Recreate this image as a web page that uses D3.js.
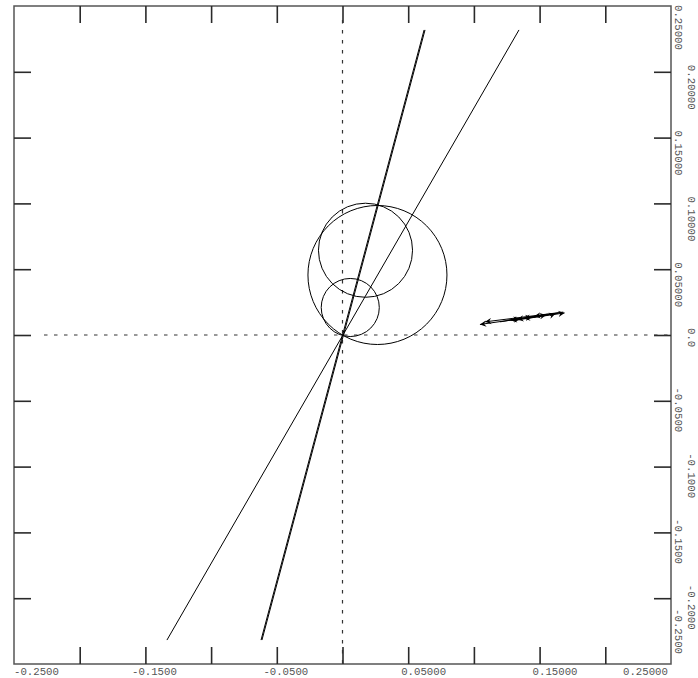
<!DOCTYPE html>
<html>
<head>
<meta charset="utf-8">
<script src="https://cdn.jsdelivr.net/npm/d3@7"></script>
<style>
  html, body { margin: 0; padding: 0; background: #fff; }
  svg { display: block; }
  text { font-family: "Liberation Mono", "DejaVu Sans Mono", monospace; font-size: 10.7px; fill: #555; }
</style>
</head>
<body>
<svg id="chart" width="698" height="678"></svg>
<script>
// ---- data ----
const xDomain = [-0.25, 0.25];
const yDomain = [-0.25, 0.25];
const tickValues = [-0.25, -0.2, -0.15, -0.1, -0.05, 0, 0.05, 0.1, 0.15, 0.2, 0.25];
const bottomLabelValues = [-0.25, -0.15, -0.05, 0.05, 0.15, 0.25];
const bottomLabels = ["-0.2500", "-0.1500", "-0.0500", "0.05000", "0.15000", "0.25000"];
const rightLabelValues = [0.25, 0.2, 0.15, 0.1, 0.05, 0, -0.05, -0.1, -0.15, -0.2, -0.25];
const rightLabels = ["0.25000", "0.20000", "0.15000", "0.10000", "0.05000", "0.0", "-0.0500", "-0.1000", "-0.1500", "-0.2000", "-0.2500"];

// straight lines through origin: [x1, y1, x2, y2]
const lineSegments = [
  [-0.1336, -0.2318, 0.1343, 0.2318],
  [-0.0613, -0.2318, 0.0628, 0.2318],
  [-0.0620, -0.2318, 0.0621, 0.2318]
];
// circles: [cx, cy, r]
const circles = [
  [0.0059, 0.0209, 0.0221],
  [0.0175, 0.0644, 0.0358],
  [0.0266, 0.0456, 0.0529]
];
// arrows: [x1, y1, x2, y2] (head at x2,y2)
const arrows = [
  [0.1640, 0.0165, 0.1046, 0.0080],
  [0.1680, 0.0174, 0.1085, 0.0100],
  [0.1520, 0.0150, 0.1280, 0.0112],
  [0.1600, 0.0160, 0.1380, 0.0125],
  [0.1660, 0.0170, 0.1460, 0.0142],
  [0.1560, 0.0158, 0.1330, 0.0118],
  [0.1400, 0.0125, 0.1690, 0.0168],
  [0.1200, 0.0100, 0.1350, 0.0124],
  [0.1300, 0.0108, 0.1550, 0.0152],
  [0.1250, 0.0112, 0.1440, 0.0136],
  [0.1580, 0.0148, 0.1620, 0.0162]
];

// ---- layout ----
const L = 14, R = 671, T = 6, B = 664;
const x = d3.scaleLinear().domain(xDomain).range([L, R]);
const y = d3.scaleLinear().domain(yDomain).range([B, T]);
const svg = d3.select("#chart");
const tickLen = 17;
const frameColor = "#555";

// frame
svg.append("rect").attr("x", L).attr("y", T).attr("width", R - L).attr("height", B - T)
  .attr("fill", "none").attr("stroke", frameColor).attr("stroke-width", 1.5);

// ticks via d3 axes
const inner = tickValues.slice(1, -1);
svg.append("g").attr("transform", `translate(0,${B})`)
  .call(d3.axisTop(x).tickValues(inner).tickSize(tickLen).tickFormat(""))
  .call(g => g.select(".domain").remove());
svg.append("g").attr("transform", `translate(0,${T})`)
  .call(d3.axisBottom(x).tickValues(inner).tickSize(tickLen).tickFormat(""))
  .call(g => g.select(".domain").remove());
svg.append("g").attr("transform", `translate(${L},0)`)
  .call(d3.axisRight(y).tickValues(inner).tickSize(tickLen).tickFormat(""))
  .call(g => g.select(".domain").remove());
svg.append("g").attr("transform", `translate(${R},0)`)
  .call(d3.axisLeft(y).tickValues(inner).tickSize(tickLen).tickFormat(""))
  .call(g => g.select(".domain").remove());
svg.selectAll(".tick line").attr("stroke", "#2a2a2a").attr("stroke-width", 1.6);

// bottom labels
const charW = 6.42;
bottomLabelValues.forEach((v, i) => {
  const s = bottomLabels[i];
  const w = s.length * charW;
  let sx = x(v) - 7 - (s[0] === "-" ? charW : 0);
  if (sx < L) sx = L;
  if (sx + w > R - 3) sx = R - 3 - w;
  svg.append("text").attr("x", sx).attr("y", 675).text(s);
});

// right labels (rotated, staggered)
rightLabelValues.forEach((v, i) => {
  const s = rightLabels[i];
  const w = s.length * charW;
  let sy = y(v) - 7 - (s[0] === "-" ? charW : 0);
  if (sy < T - 1) sy = T - 1;
  if (sy + w > B - 10) sy = B - 10 - w;
  const bx = (i % 2 === 0) ? 675 : 688;
  svg.append("text").attr("transform", `translate(${bx},${sy}) rotate(90)`).text(s);
});

// dashed zero axes
svg.append("line").attr("x1", L + 30).attr("x2", R).attr("y1", y(0)).attr("y2", y(0))
  .attr("stroke", "#333").attr("stroke-width", 1.2).attr("stroke-dasharray", "3.5,6.5");
svg.append("line").attr("y1", T + 14).attr("y2", B).attr("x1", x(0)).attr("x2", x(0))
  .attr("stroke", "#333").attr("stroke-width", 1.2).attr("stroke-dasharray", "3.5,6.5");

// lines
svg.append("g").selectAll("line").data(lineSegments).join("line")
  .attr("x1", d => x(d[0])).attr("y1", d => y(d[1]))
  .attr("x2", d => x(d[2])).attr("y2", d => y(d[3]))
  .attr("stroke", "#000").attr("stroke-width", 1);

// circles
svg.append("g").selectAll("circle").data(circles).join("circle")
  .attr("cx", d => x(d[0])).attr("cy", d => y(d[1]))
  .attr("r", d => x(d[2]) - x(0))
  .attr("fill", "none").attr("stroke", "#000").attr("stroke-width", 1);

// arrows
svg.append("defs").append("marker").attr("id", "ah")
  .attr("viewBox", "0 0 10 10").attr("refX", 9).attr("refY", 5)
  .attr("markerWidth", 8).attr("markerHeight", 7).attr("markerUnits", "userSpaceOnUse")
  .attr("orient", "auto")
  .append("path").attr("d", "M0,0.5 L9,5 L0,9.5 L3,5 Z").attr("fill", "#000");
svg.append("g").selectAll("line").data(arrows).join("line")
  .attr("x1", d => x(d[0])).attr("y1", d => y(d[1]))
  .attr("x2", d => x(d[2])).attr("y2", d => y(d[3]))
  .attr("stroke", "#000").attr("stroke-width", 1)
  .attr("marker-end", "url(#ah)");
</script>
</body>
</html>
